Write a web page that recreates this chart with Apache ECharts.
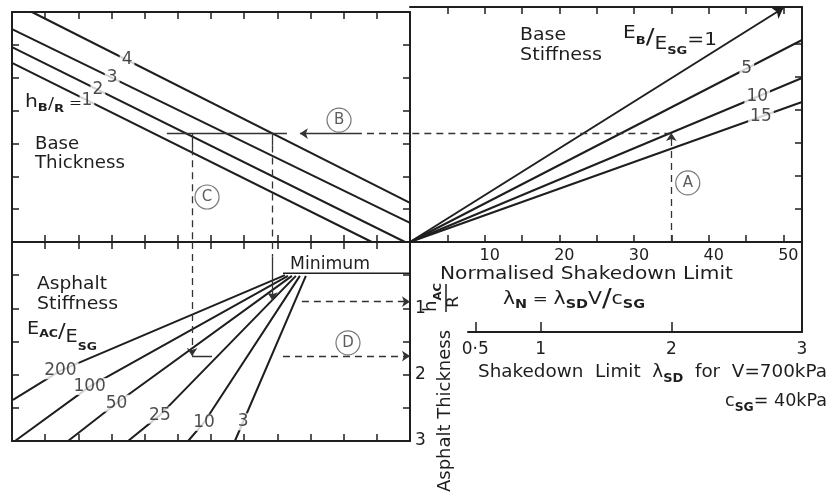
<!DOCTYPE html>
<html><head><meta charset="utf-8">
<script src="https://cdn.jsdelivr.net/npm/echarts@6/dist/echarts.min.js"></script>
<style>html,body{margin:0;padding:0;background:#fff}#c{width:830px;height:494px}</style>
</head><body><div id="c"></div>
<script>
// ---------------- data ----------------
// Top-left: base thickness lines h_B/R (x: nomogram abscissa from centre, y: nomogram ordinate)
const hbRatios = ['1', '2', '3', '4'];
const hbLines = [
  [[12.0, 5.45], [1.15, 0]],
  [[12.0, 5.93], [0.15, 0]],
  [[12.0, 6.48], [0, 0.58]],
  [[11.4, 7.0], [0, 1.19]]
];
const hbLabelAt = [[9.74, 4.31], [9.41, 4.63], [8.98, 5.0], [8.53, 5.54]];

// Top-right: base stiffness lines E_B/E_SG (x: normalised shakedown limit λN)
const ebRatios = ['1', '5', '10', '15'];
const ebLines = [
  [[0, 0], [50, 7.09]],
  [[0, 0], [52.5, 6.12]],
  [[0, 0], [52.5, 4.97]],
  [[0, 0], [52.5, 4.24]]
];
const ebLabelAt = [null, [45.1, 5.26], [46.5, 4.40], [47.0, 3.80]];

// Bottom-left: asphalt stiffness lines E_AC/E_SG (y: asphalt thickness h_AC/R)
const eacRatios = ['200', '100', '50', '25', '10', '3'];
const eacLines = [
  [[3.77, 0.50], [10.54, 1.94], [11.97, 2.38]],
  [[3.68, 0.51], [9.66, 2.18], [11.91, 3.0]],
  [[3.56, 0.51], [8.85, 2.43], [10.31, 3.0]],
  [[3.44, 0.51], [7.54, 2.61], [8.50, 3.0]],
  [[3.32, 0.51], [6.21, 2.72], [6.69, 3.0]],
  [[3.14, 0.51], [5.03, 2.71], [5.28, 3.0]]
];
const minimumLine = [[3.83, 0.47], [0, 0.47]];

// Axis ticks / labels
const panelXTicks = [1, 2, 3, 4, 5, 6, 7, 8, 9, 10, 11];
const panelYTicks = [1, 2, 3, 4, 5, 6];
const lambdaNTicks = [5, 10, 15, 20, 25, 30, 35, 40, 45, 50];
const lambdaNLabels = [10, 20, 30, 40, 50];
const lambdaSDTicks = [0.5, 1, 2];
const lambdaSDLabels = [0.5, 1, 2, 3];
const hacTicks = [0.5, 1, 1.5, 2, 2.5];
const hacLabels = [1, 2, 3];

// Worked example A -> B -> C -> D
const exLambdaN = 35;      // λN = 35 (λSD = 2)
const exLevel = 3.3;       // ordinate reached on E_B/E_SG = 10
const exU2 = 6.57;         // meets h_B/R = 2
const exU4 = 4.15;         // meets h_B/R = 4
const exW50 = 1.72;        // h_AC/R read on E_AC/E_SG = 50
const exWmin = 0.9;        // h_AC/R near minimum
const circleTL = [['B', 2.14, 3.71], ['C', 6.12, 1.37]];
const circleTR = [['A', 37.2, 1.79]];
const circleBL = [['D', 1.87, 1.52]];

// ---------------- chart ----------------
const INK = '#1e1e1e';
const FONT = "'DejaVu Sans', sans-serif";
function ax(o) {
  return Object.assign({
    type: 'value',
    axisLine: { show: true, onZero: false, lineStyle: { color: INK, width: 2 } },
    axisTick: { show: false }, axisLabel: { show: false }, splitLine: { show: false }
  }, o);
}
function ticks(vals, len) {
  return { show: true, inside: true, length: len || 7, customValues: vals, lineStyle: { color: INK, width: 1.5 } };
}
const lblStyle = { show: true, color: INK, fontSize: 16, fontFamily: FONT };

const series = [];
const lineBase = { type: 'line', showSymbol: false, symbol: 'none', silent: true, z: 3, lineStyle: { color: INK, width: 2 } };
hbLines.forEach((d, i) => series.push(Object.assign({}, lineBase, { name: 'hB/R=' + hbRatios[i], xAxisIndex: 0, yAxisIndex: 0, data: d })));
ebLines.forEach((d, i) => {
  if (i === 0) {
    series.push({ type: 'lines', name: 'EB/ESG=1', coordinateSystem: 'cartesian2d', xAxisIndex: 2, yAxisIndex: 2, silent: true, z: 3,
      symbol: ['none', 'arrow'], symbolSize: [0, 10], lineStyle: { color: INK, width: 2, opacity: 1 }, data: [{ coords: d }] });
  } else {
    series.push(Object.assign({}, lineBase, { name: 'EB/ESG=' + ebRatios[i], xAxisIndex: 2, yAxisIndex: 2, data: d }));
  }
});
eacLines.forEach((d, i) => series.push(Object.assign({}, lineBase, { name: 'EAC/ESG=' + eacRatios[i], xAxisIndex: 4, yAxisIndex: 4, data: d })));
series.push(Object.assign({}, lineBase, { name: 'Minimum', xAxisIndex: 4, yAxisIndex: 4, data: minimumLine, lineStyle: { color: INK, width: 1.5 } }));

function path(xi, yi, segs, arrow, dash, w) {
  return { type: 'lines', coordinateSystem: 'cartesian2d', xAxisIndex: xi, yAxisIndex: yi, silent: true, z: 4,
    symbol: arrow ? ['none', 'arrow'] : ['none', 'none'], symbolSize: [0, 8],
    lineStyle: { color: '#333', width: w || 1.3, type: dash ? [7, 5] : 'solid', opacity: 1 },
    data: segs.map(c => ({ coords: c })) };
}
// top-left
series.push(path(0, 0, [[[7.33, exLevel], [3.71, exLevel]], [[exU2, exLevel], [exU2, exLevel - 0.45]], [[exU4, exLevel], [exU4, exLevel - 0.36]]], false, false));
series.push(path(0, 0, [[[1.45, exLevel], [3.32, exLevel]]], true, false));
series.push(path(0, 0, [[[0, exLevel], [1.45, exLevel]], [[exU2, exLevel - 0.45], [exU2, 0]], [[exU4, exLevel - 0.36], [exU4, 0]]], false, true));
// top-right
series.push(path(2, 2, [[[exLambdaN, exLevel], [0, exLevel]]], false, true));
series.push(path(2, 2, [[[exLambdaN, 0], [exLambdaN, exLevel]]], true, true));
// bottom-left
series.push(path(4, 4, [[[exU2, 0], [exU2, exW50]], [[3.83, exW50], [0, exW50]], [[3.26, exWmin], [0, exWmin]]], true, true));
series.push(path(4, 4, [[[exU4, 0], [exU4, 0.22]]], false, true));
series.push(path(4, 4, [[[exU4, 0.22], [exU4, exWmin - 0.02]]], true, false));
series.push(path(4, 4, [[[exU2, exW50], [exU2 - 0.6, exW50]]], false, false));

function labels(xi, yi, names, pos) {
  const data = [];
  names.forEach((n, i) => { if (pos[i]) data.push({ name: n, value: pos[i] }); });
  return { type: 'scatter', xAxisIndex: xi, yAxisIndex: yi, silent: true, z: 8, symbolSize: 1,
    itemStyle: { color: 'rgba(0,0,0,0)' },
    label: { show: true, position: 'inside', formatter: '{b}', color: INK, fontSize: 17, fontFamily: FONT, backgroundColor: '#fff', padding: [0, 2] },
    data };
}
series.push(labels(0, 0, hbRatios, hbLabelAt));
series.push(labels(2, 2, ebRatios, ebLabelAt));
series.push(labels(4, 4, eacRatios, eacLines.map(l => l[1])));

function circles(xi, yi, list) {
  return { type: 'scatter', xAxisIndex: xi, yAxisIndex: yi, silent: true, z: 9, symbol: 'circle', symbolSize: 24,
    itemStyle: { color: '#fff', borderColor: '#555', borderWidth: 1.2 },
    label: { show: true, position: 'inside', formatter: '{b}', color: '#333', fontSize: 15, fontFamily: FONT },
    data: list.map(c => ({ name: c[0], value: [c[1], c[2]] })) };
}
series.push(circles(0, 0, circleTL));
series.push(circles(2, 2, circleTR));
series.push(circles(4, 4, circleBL));

// ---- text runs (sub/superscripts laid out piece by piece) ----
const mctx = document.createElement('canvas').getContext('2d');
function measure(t, fs, bold) { mctx.font = (bold ? 'bold ' : '') + fs + 'px ' + FONT; return mctx.measureText(t).width; }
// parts: [text, fontSize, dy (centre offset), bold]
function run(x, y, parts, targetW, rotation) {
  let cx = 0; const children = [];
  parts.forEach(p => {
    const t = p[0], fs = p[1], dy = p[2] || 0, bold = !!p[3];
    children.push({ type: 'text', x: cx, y: dy, z: 100, silent: true,
      style: { text: t, fontSize: fs, fontWeight: bold ? 'bold' : 'normal', fontFamily: FONT, fill: INK, align: 'left', verticalAlign: 'middle' } });
    cx += measure(t, fs, bold);
  });
  const s = targetW ? targetW / cx : 1;
  return { type: 'group', x, y, rotation: rotation || 0, scaleX: s, z: 100, silent: true, children };
}
const R90 = Math.PI / 2;
const graphic = [
  run(35, 145, [['Base', 17]], 44), run(35, 164, [['Thickness', 17]], 90),
  run(520, 36, [['Base', 17]], 46), run(520, 56, [['Stiffness', 17]], 82),
  run(37, 285, [['Asphalt', 17]], 70), run(37, 305, [['Stiffness', 17]], 81),
  run(290, 265, [['Minimum', 17]], 80),
  run(440, 275, [['Normalised Shakedown Limit', 17]], 293),
  run(25, 103, [['h', 17], ['B', 11, 5, true], ['/', 15, 2], ['R', 11, 6, true], [' =', 13, 1]], 57),
  run(623, 34, [['E', 17], ['B', 11, 7, true], ['/', 22, 4], ['E', 17, 11], ['SG', 11, 17, true], ['=1', 17, 7]], 94),
  run(27, 330, [['E', 17], ['AC', 11, 4, true], ['/', 20, 2], ['E', 17, 8], ['SG', 11, 17, true]], 70),
  run(503, 300, [['λ', 17], ['N', 12, 5, true], [' = ', 15], ['λ', 17], ['SD', 12, 5, true], ['V', 17], ['/', 24], ['c', 17], ['SG', 12, 5, true]], 142),
  run(478, 373, [['Shakedown  Limit  λ', 17], ['SD', 12, 6, true], ['  for  V=700kPa', 17]], 349),
  run(725, 402, [['c', 17], ['SG', 12, 6, true], ['= 40kPa', 17]], 102),
  run(446, 492, [['Asphalt Thickness', 17]], 162, R90),
  run(432, 312, [['h', 17], ['AC', 11, 6, true]], 29, R90),
  { type: 'line', z: 100, silent: true, shape: { x1: 446, y1: 284, x2: 446, y2: 312 }, style: { stroke: INK, lineWidth: 1.5 } },
  run(454, 308, [['R', 15]], 12, R90)
];

const option = {
  animation: false,
  backgroundColor: '#fff',
  grid: [
    { left: 12, top: 12, width: 398, height: 230, outerBoundsMode: 'none' },
    { left: 410, top: 7, width: 392, height: 235, outerBoundsMode: 'none' },
    { left: 12, top: 242, width: 398, height: 199, outerBoundsMode: 'none' },
    { left: 468, top: 242, width: 334, height: 90, outerBoundsMode: 'none' }
  ],
  xAxis: [
    ax({ gridIndex: 0, position: 'bottom', min: 0, max: 12, inverse: true, axisTick: ticks(panelXTicks) }),
    ax({ gridIndex: 0, position: 'top', min: 0, max: 12, inverse: true, axisTick: ticks(panelXTicks) }),
    ax({ gridIndex: 1, position: 'bottom', min: 0, max: 52.5, axisTick: ticks(lambdaNTicks),
      axisLabel: Object.assign({}, lblStyle, { customValues: lambdaNLabels, margin: 6, padding: [0, 0, 0, 10] }) }),
    ax({ gridIndex: 1, position: 'top', min: 0, max: 52.5, axisTick: ticks(lambdaNTicks) }),
    ax({ gridIndex: 2, position: 'bottom', min: 0, max: 12, inverse: true, axisTick: ticks(panelXTicks) }),
    ax({ gridIndex: 2, position: 'top', min: 0, max: 12, inverse: true, axisTick: ticks(panelXTicks) }),
    ax({ gridIndex: 3, position: 'bottom', min: 0.444, max: 3, axisTick: ticks(lambdaSDTicks, 10),
      axisLabel: Object.assign({}, lblStyle, { fontSize: 17, customValues: lambdaSDLabels, margin: 9, formatter: v => (v === 0.5 ? '0·5' : String(v)) }) })
  ],
  yAxis: [
    ax({ gridIndex: 0, position: 'left', min: 0, max: 7, axisTick: ticks(panelYTicks) }),
    ax({ gridIndex: 0, position: 'right', min: 0, max: 7, axisTick: ticks(panelYTicks) }),
    ax({ gridIndex: 1, position: 'right', min: 0, max: 7.12, axisTick: ticks(panelYTicks) }),
    ax({ gridIndex: 1, position: 'left', min: 0, max: 7.12, axisLine: { show: false } }),
    ax({ gridIndex: 2, position: 'left', min: 0, max: 3, inverse: true, axisTick: ticks(hacTicks) }),
    ax({ gridIndex: 2, position: 'right', min: 0, max: 3, inverse: true, axisTick: ticks(hacTicks),
      axisLabel: Object.assign({}, lblStyle, { fontSize: 17, customValues: hacLabels, margin: 5 }) }),
    ax({ gridIndex: 3, position: 'right', min: 0, max: 1 })
  ],
  series,
  graphic
};
const chart = echarts.init(document.getElementById('c'), null, { renderer: 'canvas' });
chart.setOption(option);
</script></body></html>
